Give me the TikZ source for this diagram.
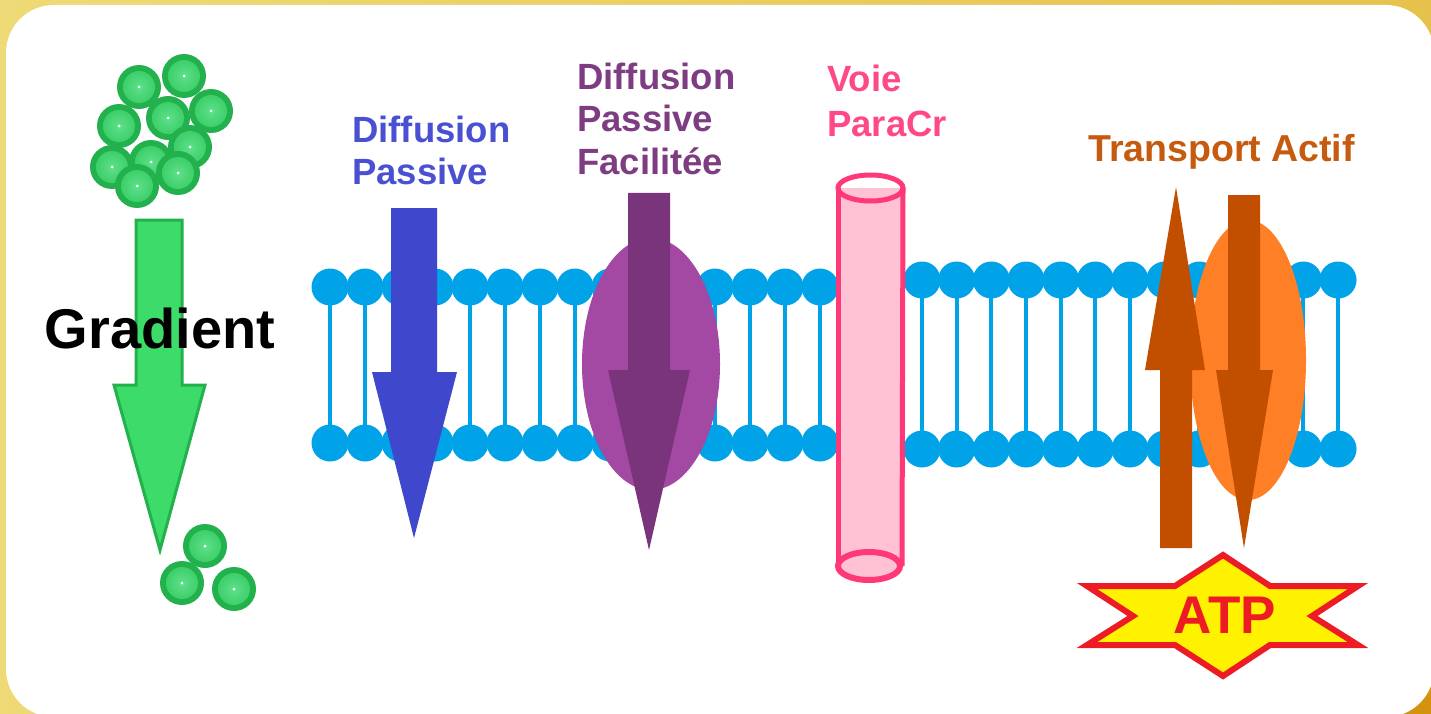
\documentclass[tikz,border=0pt]{standalone}
\usepackage{fontspec}
\setmainfont{Liberation Sans}
\usetikzlibrary{shadings}
\definecolor{frameA}{HTML}{EEDA76}
\definecolor{frameB}{HTML}{E6C24C}
\definecolor{frameC}{HTML}{D4920C}
\definecolor{lipid}{HTML}{00A2E8}
\definecolor{ballDark}{HTML}{22B14C}
\definecolor{ballMid}{HTML}{3DCF69}
\definecolor{ballLight}{HTML}{5FE08C}
\definecolor{gradFill}{HTML}{3DDC6A}
\definecolor{indigoA}{HTML}{3F48CC}
\definecolor{indigoT}{HTML}{4A50D2}
\definecolor{purpleE}{HTML}{A349A4}
\definecolor{purpleA}{HTML}{7A347B}
\definecolor{purpleT}{HTML}{7E3C82}
\definecolor{pinkLine}{HTML}{FF3877}
\definecolor{pinkFill}{HTML}{FFC2D4}
\definecolor{pinkT}{HTML}{FF4888}
\definecolor{orangeE}{HTML}{FF7F27}
\definecolor{brownA}{HTML}{C24F00}
\definecolor{brownT}{HTML}{C65A0E}
\definecolor{atpRed}{HTML}{ED1C24}
\definecolor{atpYellow}{HTML}{FFF200}
\begin{document}
\begin{tikzpicture}[x=1pt,y=-1pt,
  tail/.style={draw=lipid,line width=4pt},
  headball/.style={fill=lipid},
  lbl/.style={anchor=base west,inner sep=0pt,font=\fontsize{36.5}{43}\selectfont\bfseries},
  bigarrow/.style={line join=miter}]
  \useasboundingbox (0,0) rectangle (1431,714);
  % golden frame with a white rounded card on top
  \shade[upper left=frameA,lower left=frameA,upper right=frameB,lower right=frameC]
    (0,0) rectangle (1431,714);
  \fill[white,rounded corners=48pt] (6,5) rectangle (1434,717);

  % lipid bilayer, left of the channel
  \foreach \x in {330,365,...,820}{
    \draw[tail] (\x,287) -- (\x,443);
    \fill[headball] (\x,287) circle (18.5);
    \fill[headball] (\x,443) circle (18.5);
  }
  % lipid bilayer, right of the channel
  \foreach \i in {0,...,12}{
    \pgfmathsetmacro{\x}{922+34.67*\i}
    \draw[tail] (\x,280) -- (\x,449);
    \fill[headball] (\x,280) circle (18.5);
    \fill[headball] (\x,449) circle (18.5);
  }

  % solute particles: crowd above, few below
  \foreach \p in {(184,76),(139,87),(211,111),(119,126),(168,118),(190,147),
                  (112,167),(151,162),(178,173),(137,186),
                  (205,546),(182,583),(234,589)}{
    \fill[ballDark] \p circle (22);
    \shade[inner color=ballLight,outer color=ballMid] \p circle (16);
    \fill[white] \p circle (1.5);
  }

  % concentration gradient arrow
  \draw[fill=gradFill,draw=ballDark,line width=3pt,bigarrow]
    (136,220) -- (182,220) -- (182,385) -- (205,385) -- (160,550)
    -- (114,385) -- (136,385) -- cycle;
  \node[anchor=base,inner sep=0pt,font=\fontsize{56}{60}\selectfont\bfseries]
    (gradLbl) at (160,348) {Gradient};

  % simple passive diffusion
  \fill[indigoA] (391,208) -- (437,208) -- (437,372) -- (457,372) -- (414,538)
    -- (372,372) -- (391,372) -- cycle;
  \node[lbl,text=indigoT] (dp1) at (352,143) {Diffusion};
  \node[lbl,text=indigoT] (dp2) at (352,185) {Passive};

  % facilitated diffusion through a carrier
  \fill[purpleE] (651,364) ellipse [x radius=69, y radius=126];
  \fill[purpleA] (628,193) -- (670,193) -- (670,370) -- (690,370) -- (649,550)
    -- (608,370) -- (628,370) -- cycle;
  \node[lbl,text=purpleT] (dpf1) at (577,90) {Diffusion};
  \node[lbl,text=purpleT] (dpf2) at (577,132) {Passive};
  \node[lbl,text=purpleT] (dpf3) at (577,175) {Facilitée};

  % paracellular channel
  \fill[pinkFill] (838,188) rectangle (903,566);
  \fill[pinkFill] (869,566) ellipse [x radius=31, y radius=14];
  \draw[pinkLine,line width=5pt] (838,188) -- (838,566);
  \draw[pinkLine,line width=5pt] (903,188) -- (902,566);
  \draw[pinkLine,line width=6pt] (869,566) ellipse [x radius=31, y radius=14];
  \draw[pinkLine,line width=5pt] (870.5,188) ellipse [x radius=32.5, y radius=13];
  \node[lbl,text=pinkT] (vp1) at (827,92) {Voie};
  \node[lbl,text=pinkT] (vp2) at (827,137) {ParaCr};

  % active transport through a pump
  \fill[orangeE] (1248,360) ellipse [x radius=58, y radius=140];
  \fill[brownA] (1228,195) -- (1260,195) -- (1260,370) -- (1273,370) -- (1244,548)
    -- (1216,370) -- (1228,370) -- cycle;
  \fill[brownA] (1160,548) -- (1192,548) -- (1192,370) -- (1205,370) -- (1176,187)
    -- (1145,370) -- (1160,370) -- cycle;
  \node[lbl,text=brownT,font=\fontsize{37.5}{43}\selectfont\bfseries] (ta) at (1088,162) {Transport Actif};

  % energy source
  \draw[fill=atpYellow,draw=atpRed,line width=6pt,line join=miter]
    (1223,555) -- (1270,586) -- (1358,586) -- (1312,616) -- (1358,645)
    -- (1270,645) -- (1223,676) -- (1175,645) -- (1087,645) -- (1133,616)
    -- (1087,586) -- (1175,586) -- cycle;
  \node[anchor=base,inner sep=0pt,text=atpRed,font=\fontsize{53}{56}\selectfont\bfseries]
    (atp) at (1225,633) {ATP};
\end{tikzpicture}
\end{document}
